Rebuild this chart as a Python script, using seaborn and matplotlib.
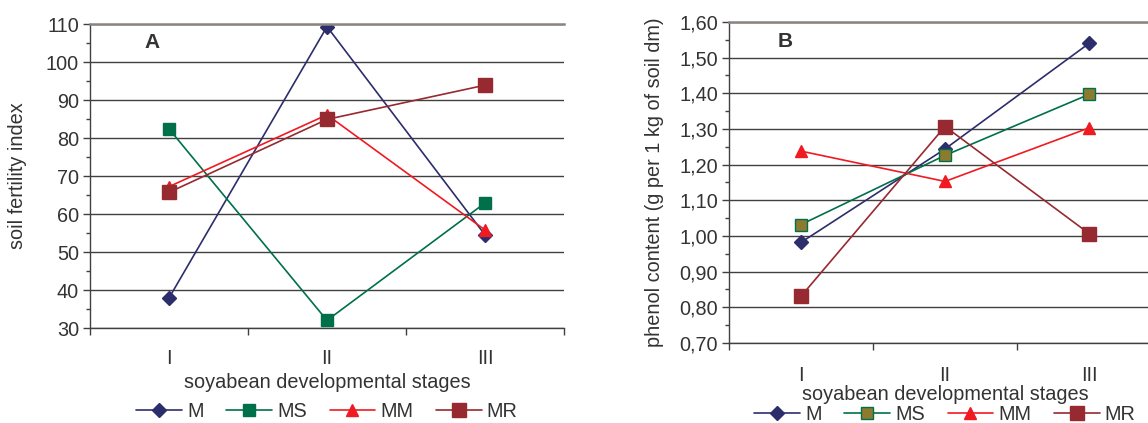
import matplotlib
matplotlib.use("Agg")
import matplotlib.pyplot as plt
import seaborn as sns
import pandas as pd
from matplotlib.ticker import FixedLocator
from matplotlib.lines import Line2D

stages = ["I", "II", "III"]
groups = ["M", "MS", "MM", "MR"]

# panel A - soil fertility index
fert_M = [37.9, 109.3, 54.5]
fert_MS = [82.4, 32.0, 62.9]
fert_MM = [67.2, 86.1, 55.8]
fert_MR = [65.7, 84.9, 93.9]
fert_ticks = [30, 40, 50, 60, 70, 80, 90, 100, 110]

# panel B - phenol content
phen_M = [0.982, 1.244, 1.540]
phen_MS = [1.032, 1.226, 1.397]
phen_MM = [1.238, 1.153, 1.303]
phen_MR = [0.831, 1.307, 1.007]
phen_ticks = [0.70, 0.80, 0.90, 1.00, 1.10, 1.20, 1.30, 1.40, 1.50, 1.60]
phen_ticklabels = ["0,70", "0,80", "0,90", "1,00", "1,10", "1,20", "1,30", "1,40", "1,50", "1,60"]

colors = {"M": "#2c2d6b", "MS": "#00704a", "MM": "#f01a22", "MR": "#962a30"}
markers = {"M": "D", "MS": "s", "MM": "^", "MR": "s"}
msizes = {"M": 7.5, "MS": 8, "MM": 9, "MR": 10.5}

txt = "#333333"
dark = "#404040"
fs = 14.3

sns.set_style("white")
plt.rcParams["font.family"] = ["Liberation Sans", "DejaVu Sans"]
plt.rcParams["font.size"] = fs


def long_df(series):
    rows = []
    for g, vals in zip(groups, series):
        for s, v in zip(stages, vals):
            rows.append({"stage": s, "group": g, "value": v})
    return pd.DataFrame(rows)


def draw(ax, df, ticks, ticklabels, ylabel, letter, ms_face, xpad, xlpad, legend_y):
    sns.lineplot(data=df, x="stage", y="value", hue="group", style="group",
                 hue_order=groups, style_order=groups, palette=colors,
                 markers=markers, dashes=False, sort=False, legend=False,
                 linewidth=1.2, ax=ax)
    for line, g in zip(ax.lines, groups):
        line.set_markersize(msizes[g])
        line.set_markeredgecolor(colors[g])
        line.set_markeredgewidth(1.0)
        if g == "MS":
            line.set_markerfacecolor(ms_face)
        else:
            line.set_markerfacecolor(colors[g])

    step = ticks[1] - ticks[0]
    ax.set_ylim(ticks[0], ticks[-1])
    ax.set_xlim(-0.5, 2.5)
    ax.yaxis.set_major_locator(FixedLocator(ticks))
    ax.set_yticklabels(ticklabels)
    ax.yaxis.set_minor_locator(FixedLocator([t + step / 2 for t in ticks[:-1]]))
    ax.set_xticks([0, 1, 2])
    ax.set_xticklabels(stages)
    ax.xaxis.set_minor_locator(FixedLocator([-0.5, 0.5, 1.5, 2.5]))
    ax.tick_params(axis="y", which="major", direction="out", length=5, width=1,
                   color=dark, labelcolor=txt, pad=3, left=True)
    ax.tick_params(axis="y", which="minor", direction="out", length=3, width=1,
                   color=dark, left=True)
    ax.tick_params(axis="x", which="major", length=0, labelcolor=txt, pad=xpad)
    ax.tick_params(axis="x", which="minor", direction="out", length=5, width=1,
                   color=dark, bottom=True)

    ax.set_axisbelow(True)
    ax.yaxis.grid(True, color=dark, linewidth=1.0)
    for side in ["left", "bottom"]:
        ax.spines[side].set_color(dark)
        ax.spines[side].set_linewidth(1.0)
    ax.spines["right"].set_visible(False)
    ax.spines["top"].set_color("#8c8480")
    ax.spines["top"].set_linewidth(1.8)

    ax.set_xlabel("soyabean developmental stages", color=txt, labelpad=xlpad)
    ax.set_ylabel(ylabel, color=txt)
    ax.text(0.13, 0.94, letter, transform=ax.transAxes, fontsize=15,
            fontweight="bold", color=txt, ha="center", va="center")

    handles = []
    for g in groups:
        face = ms_face if g == "MS" else colors[g]
        handles.append(Line2D([], [], color=colors[g], linewidth=1.2,
                              marker=markers[g], markersize=msizes[g],
                              markerfacecolor=face, markeredgecolor=colors[g]))
    leg = ax.legend(handles, groups, loc="center", bbox_to_anchor=(0.5, legend_y),
                    ncol=4, frameon=False, handlelength=2.3, handletextpad=0.25,
                    columnspacing=1.15, fontsize=fs)
    for t in leg.get_texts():
        t.set_color(txt)


fig = plt.figure(figsize=(11.48, 4.23), dpi=100)
ax1 = fig.add_axes([90 / 1148, 95 / 423, 474 / 1148, 304 / 423])
ax2 = fig.add_axes([729 / 1148, 80 / 423, 432 / 1148, 321 / 423])

draw(ax1, long_df([fert_M, fert_MS, fert_MM, fert_MR]), fert_ticks,
     [str(t) for t in fert_ticks], "soil fertility index", "A", colors["MS"],
     15, 4, -0.275)
draw(ax2, long_df([phen_M, phen_MS, phen_MM, phen_MR]), phen_ticks,
     phen_ticklabels, "phenol content (g per 1 kg of soil dm)", "B", "#8c7a2e",
     16.5, 0, -0.222)
ax1.yaxis.set_label_coords(-0.133, 0.5)
ax2.yaxis.set_label_coords(-0.150, 0.5)

fig.savefig("out.png", dpi=100)
